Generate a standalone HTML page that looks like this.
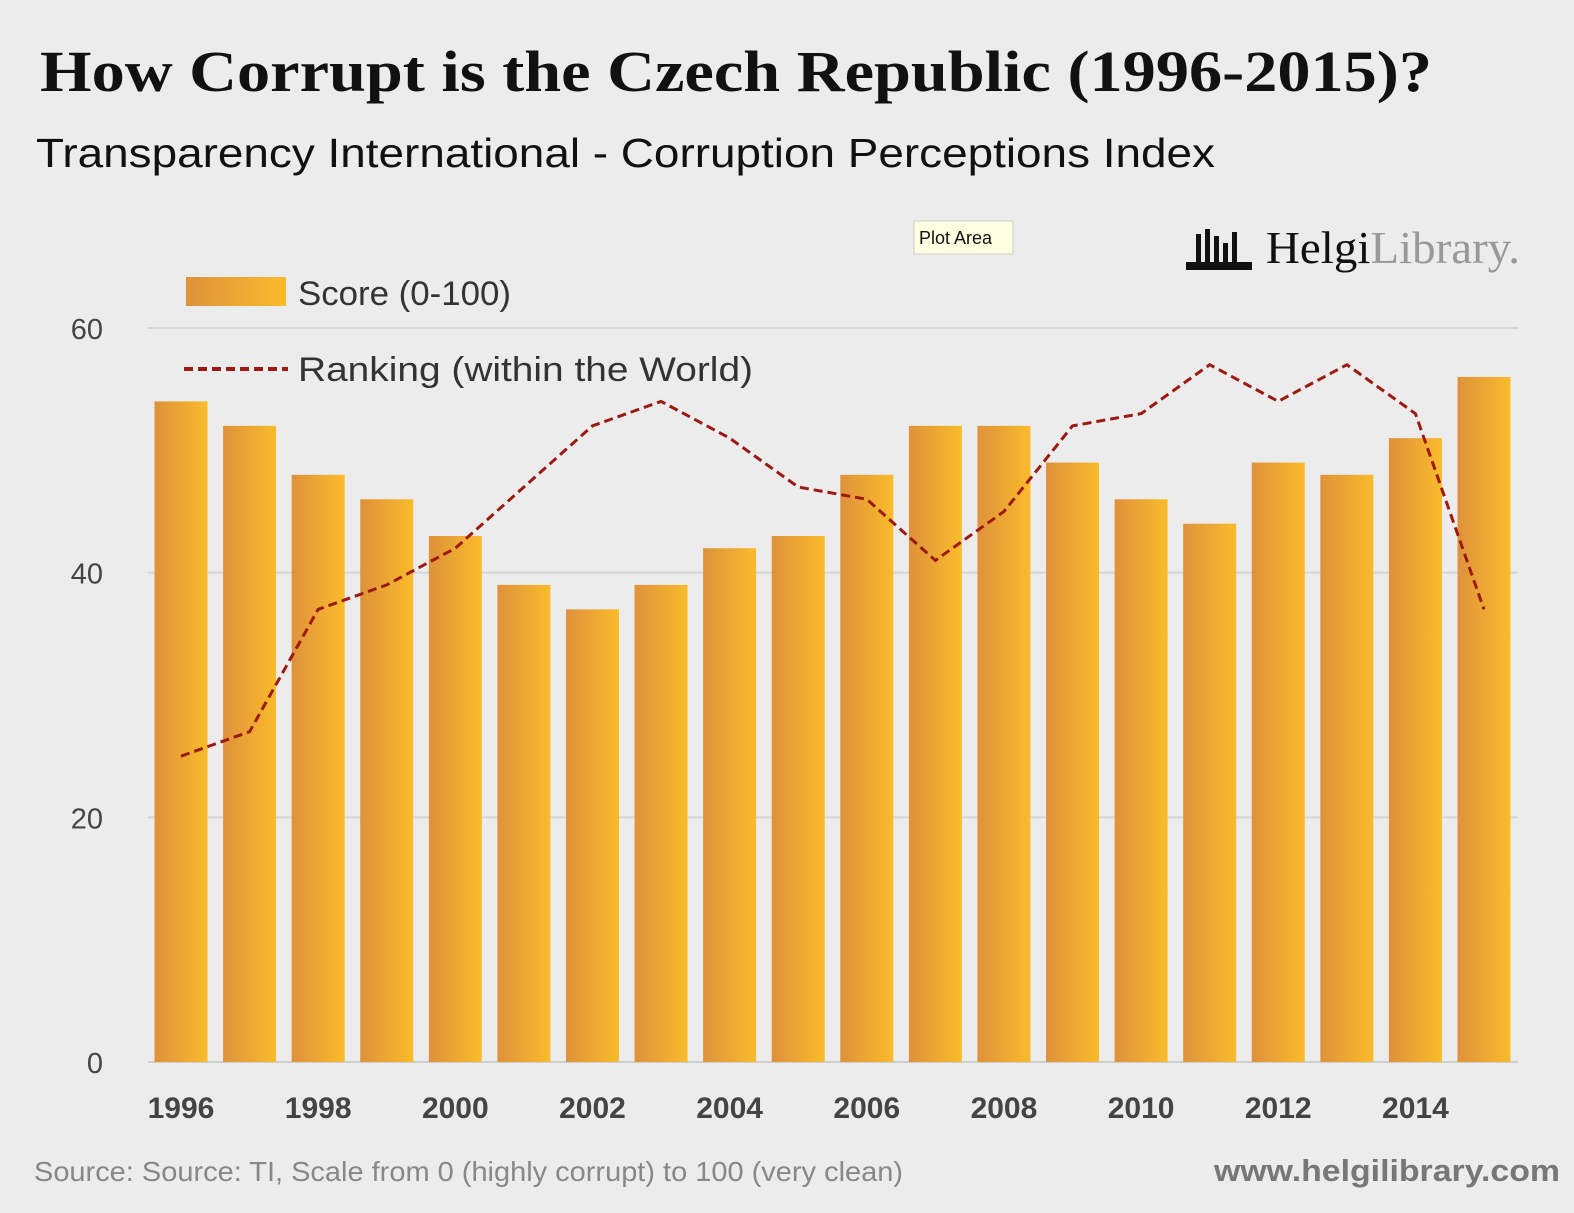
<!DOCTYPE html>
<html><head><meta charset="utf-8">
<style>
html,body{margin:0;padding:0;background:#ececec;}
body{width:1574px;height:1208px;overflow:hidden;position:relative;font-family:"Liberation Sans",sans-serif;}
</style></head>
<body>
<svg id="chart" width="1574" height="1208" xmlns="http://www.w3.org/2000/svg">
<defs>
<linearGradient id="bg" x1="0" x2="1" y1="0" y2="0">
<stop offset="0" stop-color="#df923b"/><stop offset="1" stop-color="#f9bb2b"/>
</linearGradient>
</defs>
<rect width="1574" height="1208" fill="#ececec"/>
<text x="40" y="91" font-family="Liberation Serif,serif" font-weight="bold" font-size="58" fill="#111" textLength="1392" lengthAdjust="spacingAndGlyphs">How Corrupt is the Czech Republic (1996-2015)?</text>
<text x="36" y="167" font-family="Liberation Sans,sans-serif" font-size="41" fill="#111" textLength="1179" lengthAdjust="spacingAndGlyphs">Transparency International - Corruption Perceptions Index</text>
<g>
<rect x="914" y="221" width="99" height="33" fill="#fefee0" stroke="#ccc"/>
<text x="919" y="244" font-size="18" fill="#111">Plot Area</text>
</g>
<g>
<g fill="#111"><rect x="1196" y="234" width="5" height="30"/><rect x="1205" y="229" width="5" height="35"/><rect x="1214" y="236" width="5" height="28"/><rect x="1223" y="243" width="5" height="21"/><rect x="1232" y="232" width="5" height="32"/><rect x="1186" y="262" width="66" height="8"/></g>
<text x="1266" y="263" font-family="Liberation Serif,serif" font-size="46" fill="#111" textLength="254" lengthAdjust="spacingAndGlyphs">Helgi<tspan fill="#999">Library.</tspan></text>
</g>
<g>
<rect x="186" y="277" width="100" height="29" fill="url(#bg)"/>
<text x="298" y="296" font-size="34" fill="#333" dominant-baseline="middle" textLength="213" lengthAdjust="spacingAndGlyphs">Score (0-100)</text>
<line x1="184" y1="369" x2="288" y2="369" stroke="#9c1a12" stroke-width="4" stroke-dasharray="9,5"/>
<text x="298" y="372" font-size="34" fill="#333" dominant-baseline="middle" textLength="455" lengthAdjust="spacingAndGlyphs">Ranking (within the World)</text>
</g>
<g id="grid"></g><g id="bars"></g><g id="line"></g><g id="xlabels"></g>
<text x="34" y="1181" font-size="28" fill="#888" textLength="869" lengthAdjust="spacingAndGlyphs">Source: Source: TI, Scale from 0 (highly corrupt) to 100 (very clean)</text>
<text x="1214" y="1181" font-size="31" font-weight="bold" fill="#777" textLength="346" lengthAdjust="spacingAndGlyphs">www.helgilibrary.com</text>
</svg>
<script>
const years = [1996,1997,1998,1999,2000,2001,2002,2003,2004,2005,2006,2007,2008,2009,2010,2011,2012,2013,2014,2015];
const scores = [54,52,48,46,43,39,37,39,42,43,48,52,52,49,46,44,49,48,51,56];
const ranking = [25,27,37,39,42,47,52,54,51,47,46,41,45,52,53,57,54,57,53,37];
const yTicks = [0,20,40,60];
const NS='http://www.w3.org/2000/svg';
const y = v => 1062 - v*(1062-328)/60;
const x = i => 181 + i*(1484-181)/19;
const bw = 53;
function mk(tag, attrs, parent){const e=document.createElementNS(NS,tag);for(const k in attrs)e.setAttribute(k,attrs[k]);document.getElementById(parent).appendChild(e);return e;}
yTicks.forEach(t=>{
  const l=mk('line',{x1:148,x2:1518,y1:y(t),y2:y(t),stroke:t===0?'#cfcfcf':'#d6d6d6','stroke-width':2},'grid');
  
  
  const tx=mk('text',{x:103,y:y(t)+11,'text-anchor':'end','font-size':29,fill:'#444'},'grid');
  tx.textContent=t;
  
  
});
scores.forEach((s,i)=>{
  const r=mk('rect',{x:x(i)-bw/2,y:y(s),width:bw,height:y(0)-y(s),fill:'url(#bg)'},'bars');
  
  
});
const p=mk('polyline',{points:ranking.map((v,i)=>x(i)+','+y(v)).join(' '),fill:'none',stroke:'#9c1a12','stroke-width':3,'stroke-dasharray':'9,5'},'line');


years.forEach((yr,i)=>{
  if(i%2) return;
  const t=mk('text',{x:x(i),y:1118,'text-anchor':'middle','font-size':30,'font-weight':'bold',fill:'#444'},'xlabels');
  t.textContent=yr;
  
  
});
</script>
</body></html>
